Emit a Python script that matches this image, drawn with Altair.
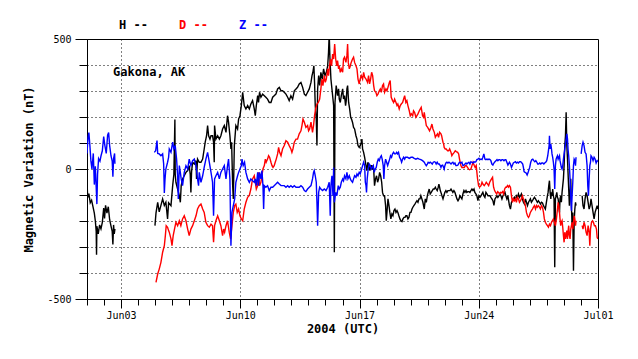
import json
import altair as alt
import pandas as pd

# ---- data (days since 2004-06-01 00:00 UTC, nT) ----
H = [(0.00,-50),(0.04,-110),(0.11,-95),(0.19,-130),(0.27,-120),(0.35,-145),(0.43,-170),(0.49,-200),(0.54,-240),(0.56,-330),(0.58,-220),(0.66,-250),(0.74,-215),(0.82,-230),(0.90,-205),(0.98,-150),(1.03,-190),(1.09,-140),(1.17,-170),(1.25,-145),(1.33,-195),(1.41,-220),(1.48,-240),(1.52,-290),(1.56,-215),(1.60,-250),(1.64,-230),
(3.99,-218),(4.05,-170),(4.15,-128),(4.24,-165),(4.34,-140),(4.44,-115),(4.54,-140),(4.63,-128),(4.73,-192),(4.79,-130),
(4.93,-141),(5.03,-64),(5.10,-20),(5.16,190),(5.18,-20),(5.22,-51),(5.32,-77),(5.42,-102),(5.48,-128),(5.53,-64),(5.61,-38),(5.71,-26),(5.81,-13),(5.91,-6),(6.00,13),(6.06,-20),(6.10,-90),(6.14,-10),(6.20,26),(6.30,19),(6.40,32),(6.43,-38),(6.49,38),(6.59,26),(6.69,26),(6.79,38),(6.88,77),(6.94,103),(7.02,128),(7.08,167),(7.14,128),(7.22,115),(7.28,128),(7.37,128),(7.43,103),(7.47,26),(7.49,167),(7.57,115),(7.67,128),(7.77,115),(7.86,128),(7.96,154),(8.06,167),(8.16,141),(8.25,205),(8.31,180),(8.39,128),(8.45,77),(8.49,103),(8.55,-60),(8.59,-115),(8.65,90),(8.74,167),(8.84,154),(8.90,192),(8.98,205),(9.06,244),(9.14,295),(9.23,244),(9.33,231),(9.43,244),(9.53,231),(9.62,250),(9.72,263),
(9.82,231),(9.88,205),(9.94,244),(10.02,282),(10.07,256),(10.13,295),(10.21,276),(10.31,288),(10.41,282),(10.50,276),(10.60,269),(10.70,256),(10.80,256),(10.90,276),(10.99,282),(11.09,288),(11.19,308),(11.29,314),(11.39,301),(11.48,301),(11.58,295),(11.68,288),(11.78,276),(11.87,263),(11.97,282),(12.07,269),(12.17,301),(12.27,308),(12.36,314),(12.46,327),(12.56,333),(12.66,314),(12.76,288),(12.85,282),(12.95,295),(13.05,308),(13.15,333),(13.21,359),(13.26,372),(13.32,397),(13.36,333),(13.40,244),(13.46,192),(13.50,90),(13.54,308),(13.60,359),(13.66,321),(13.73,372),(13.81,346),(13.89,385),(13.97,359),(14.05,372),(14.13,397),(14.18,449),(14.22,520),(14.26,430),(14.32,346),(14.40,295),(14.48,244),(14.52,-320),(14.56,256),(14.63,321),(14.71,282),(14.77,308),
(14.81,269),(14.87,256),(14.93,282),(15.01,308),(15.06,269),(15.12,282),(15.18,244),(15.22,263),(15.26,308),(15.30,321),(15.36,256),(15.42,231),(15.48,199),(15.53,192),(15.59,179),(15.65,160),(15.71,154),(15.79,128),(15.85,115),(15.91,90),(15.98,83),(16.04,90),(16.10,103),(16.14,115),(16.18,77),(16.24,64),(16.30,45),(16.38,13),(16.43,-6),(16.49,26),(16.55,13),(16.61,-6),(16.67,13),(16.73,13),(16.77,0),(16.83,0),(16.88,-64),(16.94,-38),(17.00,-26),(17.06,-51),(17.12,-38),(17.18,-13),(17.24,-26),(17.30,-51),(17.35,-90),(17.41,-103),(17.47,-103),(17.53,-141),(17.57,-199),(17.61,-167),(17.67,-115),(17.73,-141),(17.78,-167),(17.84,-192),(17.90,-173),(17.96,-180),(18.02,-160),(18.08,-154),(18.14,-167),(18.20,-160),(18.25,-167),(18.31,-180),(18.37,-192),(18.43,-199),(18.49,-202),(18.55,-192),(18.61,-186),(18.67,-186),(18.72,-180),(18.78,-180),(18.84,-192),(18.90,-186),(18.96,-167),(19.02,-167),(19.08,-154),(19.13,-147),(19.19,-141),(19.25,-135),(19.31,-128),(19.37,-122),(19.43,-128),(19.49,-115),(19.55,-115),(19.60,-103),(19.66,-115),(19.72,-128),
(19.80,-154),(19.86,-115),(19.92,-128),(19.98,-103),(20.03,-90),(20.09,-77),(20.15,-96),(20.21,-90),(20.27,-83),(20.33,-77),(20.39,-77),(20.45,-70),(20.50,-77),(20.56,-83),(20.62,-70),(20.66,-58),(20.70,-70),(20.74,-83),(20.78,-90),(20.84,-103),(20.90,-115),(20.95,-103),(21.01,-90),(21.07,-83),(21.13,-90),(21.19,-83),(21.25,-83),(21.31,-83),(21.37,-77),(21.42,-83),(21.48,-90),(21.54,-83),(21.60,-90),(21.66,-103),(21.72,-115),(21.78,-122),(21.84,-115),(21.89,-103),(21.95,-109),(22.01,-115),(22.07,-96),(22.13,-83),(22.19,-90),(22.25,-83),(22.30,-90),(22.36,-87),(22.42,-87),(22.48,-90),(22.54,-83),(22.60,-77),(22.66,-83),(22.72,-77),(22.77,-90),(22.83,-96),(22.89,-103),(22.95,-122),(23.01,-103),(23.07,-109),(23.13,-103),(23.19,-96),(23.24,-90),(23.30,-103),(23.36,-109),(23.42,-90),(23.48,-96),(23.54,-103),(23.60,-103),(23.66,-103),(23.71,-109),(23.77,-115),(23.83,-122),(23.89,-140),(23.95,-115),(24.01,-109),(24.07,-103),(24.12,-109),(24.18,-103),(24.24,-96),(24.30,-103),(24.36,-115),(24.42,-103),(24.48,-96),(24.54,-90),(24.59,-103),(24.65,-115),(24.71,-103),
(24.80,-141),(24.86,-154),(24.92,-128),(24.98,-122),(25.03,-115),(25.09,-109),(25.15,-122),(25.21,-103),(25.27,-109),(25.33,-96),(25.39,-109),(25.45,-103),(25.50,-96),(25.56,-115),(25.62,-128),(25.68,-135),(25.74,-115),(25.80,-128),(25.86,-141),(25.92,-128),(25.97,-122),(26.03,-115),(26.09,-128),(26.15,-122),(26.21,-115),(26.27,-109),(26.33,-115),(26.39,-122),(26.44,-128),(26.50,-122),(26.56,-128),(26.62,-135),(26.68,-128),(26.74,-131),(26.80,-141),(26.85,-147),(26.91,-154),(26.97,-128),(27.03,-103),(27.07,-90),(27.11,-64),(27.15,-45),(27.19,-90),(27.23,-115),(27.27,-90),(27.30,-103),(27.34,-77),(27.38,-103),(27.42,-115),(27.46,-378),(27.50,-115),(27.54,-103),(27.58,-90),(27.62,-109),(27.66,-115),(27.70,-141),(27.74,-167),(27.77,-115),(27.81,-103),(27.85,-128),(27.89,-90),(27.93,-64),(27.97,-38),(28.01,13),(28.05,90),(28.09,128),(28.13,218),(28.17,90),(28.21,38),(28.24,-13),(28.28,-77),(28.32,-141),(28.36,-90),(28.40,-38),(28.44,-141),(28.48,-218),(28.52,-167),(28.56,-391),(28.60,-205),(28.64,-154),(28.68,-128),(28.71,-141),
(29.07,-103),(29.12,-141),(29.18,-154),(29.24,-115),(29.30,-90),(29.36,-103),(29.42,-128),(29.48,-154),(29.54,-141),(29.59,-115),(29.65,-141),(29.71,-167),(29.77,-192),(29.83,-167),(29.89,-154),(29.95,-141),(29.99,-154)]

D = [(4.05,-436),(4.15,-404),(4.24,-385),(4.34,-359),(4.44,-320),(4.54,-295),(4.60,-256),(4.65,-218),(4.73,-224),(4.79,-237),
(4.83,-243),(4.93,-269),(4.99,-295),(5.06,-256),(5.14,-230),(5.22,-205),(5.32,-218),(5.42,-199),(5.51,-218),(5.61,-192),(5.71,-180),(5.81,-199),(5.91,-231),(6.00,-256),(6.10,-231),(6.20,-218),(6.30,-199),(6.40,-180),(6.49,-154),(6.59,-141),(6.69,-135),(6.79,-154),(6.88,-167),(6.98,-205),(7.08,-218),(7.18,-224),(7.28,-212),(7.37,-218),(7.43,-282),(7.49,-218),(7.57,-199),(7.67,-180),(7.77,-199),(7.86,-218),(7.96,-256),(8.02,-231),(8.08,-243),(8.16,-218),(8.25,-199),(8.35,-243),(8.43,-269),(8.51,-218),(8.59,-167),(8.67,-141),(8.74,-135),(8.82,-167),(8.90,-154),(8.98,-180),(9.06,-192),(9.14,-199),(9.23,-154),(9.33,-128),(9.43,-109),(9.53,-102),(9.62,-77),(9.72,-38),
(9.82,-26),(9.88,-51),(9.94,-77),(10.02,-64),(10.07,-13),(10.13,-64),(10.21,-51),(10.27,-26),(10.33,0),(10.41,13),(10.47,38),(10.52,26),(10.60,38),(10.66,51),(10.72,45),(10.80,26),(10.86,13),(10.92,6),(10.99,13),(11.05,26),(11.11,38),(11.19,58),(11.25,83),(11.31,64),(11.39,51),(11.48,77),(11.58,90),(11.68,109),(11.78,103),(11.87,90),(11.97,77),(12.03,64),(12.09,77),(12.17,103),(12.27,115),(12.36,115),(12.46,135),(12.56,147),(12.62,167),(12.68,192),(12.76,180),(12.85,160),(12.95,167),(13.01,147),(13.07,154),(13.15,180),(13.24,141),(13.30,167),(13.36,205),(13.42,231),(13.50,250),(13.58,256),(13.66,269),(13.73,308),(13.79,346),(13.85,321),(13.93,359),(13.99,333),(14.05,346),(14.13,385),(14.18,359),(14.24,397),(14.30,423),(14.36,397),(14.42,442),(14.48,423),(14.54,481),(14.60,423),(14.66,397),(14.71,417),(14.77,385),
(14.81,397),(14.87,372),(14.93,385),(15.01,372),(15.06,423),(15.12,430),(15.20,410),(15.26,436),(15.30,481),(15.34,410),(15.40,385),(15.46,397),(15.51,410),(15.59,423),(15.65,430),(15.71,410),(15.79,397),(15.85,385),(15.91,346),(15.98,327),(16.04,346),(16.10,359),(16.18,346),(16.24,372),(16.30,353),(16.38,346),(16.47,333),(16.53,359),(16.59,327),(16.65,346),(16.71,372),(16.77,359),(16.83,321),(16.88,301),(16.96,295),(17.02,282),(17.08,288),(17.16,301),(17.22,308),(17.28,295),(17.35,321),(17.41,327),(17.47,295),(17.55,308),(17.61,301),(17.67,314),(17.75,333),(17.80,340),(17.86,276),(17.94,263),(18.00,256),(18.06,269),(18.14,256),(18.20,244),(18.25,250),(18.33,231),(18.39,244),(18.45,250),(18.53,256),(18.59,269),(18.65,282),(18.72,256),(18.78,263),(18.84,244),(18.92,224),(18.98,205),(19.04,212),(19.12,205),(19.17,224),(19.23,218),(19.31,199),(19.37,205),(19.43,212),(19.51,224),(19.57,231),(19.62,237),(19.70,205),(19.76,199),
(19.80,218),(19.86,192),(19.92,167),(20.00,160),(20.05,154),(20.11,147),(20.19,160),(20.25,173),(20.31,154),(20.39,141),(20.45,122),(20.50,128),(20.58,135),(20.64,122),(20.70,141),(20.78,135),(20.82,128),(20.86,115),(20.90,103),(20.94,96),(20.97,83),(21.03,77),(21.09,77),(21.17,70),(21.23,70),(21.29,77),(21.37,64),(21.42,51),(21.48,58),(21.56,64),(21.62,70),(21.68,67),(21.76,64),(21.82,58),(21.87,38),(21.95,13),(22.01,6),(22.07,6),(22.15,6),(22.21,13),(22.27,13),(22.34,6),(22.40,0),(22.46,-3),(22.54,0),(22.60,13),(22.66,26),(22.74,13),(22.79,6),(22.85,13),(22.89,-13),(22.93,-38),(22.99,-64),(23.05,-70),(23.13,-64),(23.19,-51),(23.24,-58),(23.32,-64),(23.38,-58),(23.44,-51),(23.52,-58),(23.58,-64),(23.64,-51),(23.69,-45),(23.75,-38),(23.81,-32),(23.87,-70),(23.93,-83),(23.99,-90),(24.05,-96),(24.11,-87),(24.16,-90),(24.22,-96),(24.28,-90),(24.34,-92),(24.40,-87),(24.46,-96),(24.52,-77),(24.58,-70),(24.63,-70),(24.69,-64),(24.75,-70),
(24.80,-64),(24.86,-70),(24.92,-103),(24.98,-128),(25.03,-115),(25.09,-122),(25.15,-115),(25.21,-128),(25.27,-109),(25.33,-115),(25.39,-128),(25.45,-122),(25.50,-115),(25.56,-103),(25.62,-115),(25.68,-128),(25.74,-141),(25.80,-167),(25.86,-180),(25.92,-186),(25.97,-180),(26.03,-167),(26.09,-160),(26.15,-154),(26.21,-147),(26.27,-141),(26.33,-154),(26.39,-141),(26.44,-147),(26.50,-141),(26.56,-147),(26.62,-154),(26.68,-141),(26.74,-147),(26.80,-167),(26.85,-192),(26.91,-205),(26.97,-212),(27.03,-218),(27.09,-224),(27.15,-212),(27.21,-218),(27.27,-205),(27.32,-199),(27.38,-192),(27.44,-205),(27.50,-218),(27.56,-192),(27.62,-154),(27.66,-128),(27.70,-141),(27.74,-167),(27.77,-192),(27.81,-218),(27.85,-205),(27.89,-199),(27.93,-224),(27.97,-256),(28.01,-282),(28.05,-243),(28.09,-269),(28.13,-256),(28.17,-237),(28.21,-269),(28.24,-243),(28.28,-218),(28.32,-256),(28.36,-269),(28.40,-231),(28.44,-218),(28.48,-205),(28.52,-231),(28.56,-205),(28.60,-180),(28.64,-192),(28.68,-218),(28.71,-199),
(29.07,-218),(29.12,-231),(29.18,-205),(29.24,-218),(29.30,-243),(29.36,-256),(29.42,-218),(29.48,-243),(29.52,-295),(29.56,-231),(29.62,-205),(29.68,-199),(29.73,-205),(29.79,-218),(29.85,-218),(29.91,-231),(29.95,-263),(29.99,-269)]

Z = [(0.00,60),(0.06,120),(0.11,140),(0.17,90),(0.23,30),(0.29,0),(0.37,60),(0.43,-60),(0.49,10),(0.54,-70),(0.58,-135),(0.62,-20),(0.68,40),(0.76,30),(0.82,50),(0.90,70),(0.98,125),(1.05,90),(1.13,60),(1.21,130),(1.27,140),(1.33,90),(1.41,50),(1.48,30),(1.52,-30),(1.56,40),(1.62,60),(1.64,20),
(3.95,64),(4.03,70),(4.11,109),(4.15,60),(4.24,58),(4.34,51),(4.44,58),(4.50,20),(4.54,-92),(4.58,-40),(4.63,0),(4.73,26),(4.79,45),
(4.83,77),(4.93,64),(5.03,103),(5.10,77),(5.18,90),(5.26,38),(5.32,-26),(5.36,-115),(5.42,13),(5.48,-13),(5.53,-38),(5.61,-64),(5.71,-13),(5.81,13),(5.91,0),(6.00,38),(6.10,13),(6.20,32),(6.30,38),(6.40,13),(6.49,-38),(6.55,-64),(6.59,-13),(6.69,-51),(6.79,-26),(6.88,6),(6.98,38),(7.08,64),(7.18,26),(7.28,-13),(7.37,-51),(7.43,-180),(7.49,-38),(7.57,-26),(7.67,-13),(7.77,-38),(7.86,-13),(7.96,0),(8.06,13),(8.16,-38),(8.25,13),(8.31,38),(8.39,-38),(8.45,-295),(8.51,-167),(8.59,-141),(8.67,-115),(8.74,-51),(8.84,-26),(8.90,-13),(8.98,0),(9.06,13),(9.10,38),(9.17,13),(9.25,26),(9.33,-13),(9.43,-38),(9.53,-51),(9.62,-38),(9.72,-45),
(9.82,-51),(9.88,-38),(9.94,-64),(10.02,-13),(10.07,-64),(10.13,-13),(10.21,-38),(10.27,-6),(10.33,-64),(10.37,-154),(10.41,-64),(10.50,-70),(10.60,-64),(10.70,-83),(10.80,-70),(10.90,-70),(10.99,-64),(11.09,-58),(11.19,-51),(11.29,-58),(11.39,-64),(11.48,-64),(11.58,-64),(11.68,-70),(11.78,-64),(11.87,-70),(11.97,-64),(12.07,-70),(12.17,-64),(12.27,-70),(12.36,-70),(12.46,-70),(12.56,-64),(12.66,-70),(12.76,-83),(12.85,-87),(12.95,-77),(13.05,-70),(13.15,-64),(13.24,-38),(13.30,-13),(13.34,-6),(13.40,-26),(13.46,-51),(13.50,-128),(13.54,-218),(13.60,-90),(13.66,-70),(13.73,-77),(13.83,-83),(13.93,-77),(14.03,-83),(14.13,-70),(14.22,-51),(14.28,-180),(14.32,-64),(14.38,-26),(14.44,-103),(14.48,6),(14.52,-128),(14.60,-90),(14.67,-103),(14.75,-64),
(14.81,-77),(14.87,-70),(14.93,-51),(15.01,-38),(15.06,-45),(15.12,-26),(15.20,-38),(15.26,-13),(15.32,-38),(15.40,-26),(15.46,-38),(15.51,-45),(15.59,-51),(15.65,-38),(15.71,-26),(15.79,-32),(15.85,-19),(15.91,-26),(15.98,-13),(16.04,-19),(16.10,-6),(16.18,13),(16.24,26),(16.30,13),(16.34,-51),(16.38,-64),(16.41,-90),(16.45,-38),(16.51,0),(16.57,19),(16.63,13),(16.69,0),(16.75,6),(16.81,13),(16.86,-13),(16.92,0),(16.98,6),(17.04,26),(17.10,38),(17.16,32),(17.22,45),(17.28,51),(17.33,38),(17.39,13),(17.43,-38),(17.47,13),(17.53,38),(17.59,26),(17.65,13),(17.71,26),(17.77,38),(17.82,51),(17.88,45),(17.94,58),(18.00,64),(18.06,58),(18.12,58),(18.18,64),(18.23,58),(18.29,64),(18.35,45),(18.41,38),(18.47,26),(18.53,38),(18.59,45),(18.65,38),(18.70,45),(18.76,45),(18.82,45),(18.92,41),(19.02,45),(19.12,45),(19.21,41),(19.31,38),(19.41,41),(19.51,38),(19.60,36),(19.70,32),
(19.80,26),(19.86,19),(19.92,13),(19.98,19),(20.03,26),(20.09,23),(20.15,26),(20.21,23),(20.27,19),(20.33,26),(20.39,28),(20.45,26),(20.50,19),(20.56,26),(20.62,19),(20.68,19),(20.74,13),(20.78,6),(20.82,13),(20.88,15),(20.94,6),(20.97,0),(21.01,13),(21.07,23),(21.13,26),(21.19,23),(21.25,26),(21.31,23),(21.37,19),(21.42,23),(21.48,26),(21.54,19),(21.60,23),(21.66,13),(21.72,13),(21.78,15),(21.84,23),(21.89,26),(21.95,23),(22.01,26),(22.07,13),(22.13,15),(22.19,19),(22.25,23),(22.30,19),(22.36,23),(22.42,26),(22.48,19),(22.54,28),(22.60,26),(22.66,23),(22.72,28),(22.77,26),(22.83,28),(22.89,36),(22.95,38),(23.01,41),(23.07,36),(23.13,38),(23.19,36),(23.24,45),(23.30,58),(23.36,38),(23.42,36),(23.48,38),(23.54,36),(23.60,38),(23.66,36),(23.71,32),(23.77,19),(23.83,15),(23.89,23),(23.95,28),(24.01,32),(24.07,36),(24.12,32),(24.18,36),(24.24,36),(24.30,32),(24.36,36),(24.42,36),(24.48,32),(24.54,36),(24.59,36),(24.65,26),(24.71,15),
(24.80,26),(24.86,19),(24.92,6),(24.98,15),(25.03,23),(25.09,26),(25.15,28),(25.21,23),(25.27,26),(25.33,23),(25.39,28),(25.45,28),(25.50,26),(25.58,19),(25.62,6),(25.66,-10),(25.72,-13),(25.78,-15),(25.84,-23),(25.90,-13),(25.93,-6),(25.99,6),(26.05,26),(26.11,36),(26.17,38),(26.23,32),(26.29,28),(26.35,32),(26.41,26),(26.46,19),(26.52,19),(26.58,23),(26.64,19),(26.70,23),(26.76,23),(26.82,19),(26.87,23),(26.93,26),(26.99,32),(27.05,51),(27.09,71),(27.13,90),(27.15,128),(27.19,77),(27.23,96),(27.27,77),(27.30,58),(27.34,45),(27.38,26),(27.42,0),(27.46,-77),(27.50,13),(27.54,38),(27.58,45),(27.62,51),(27.66,38),(27.70,45),(27.74,51),(27.77,32),(27.81,19),(27.85,6),(27.89,0),(27.93,13),(27.97,38),(28.01,58),(28.05,77),(28.09,96),(28.13,115),(28.17,135),(28.21,115),(28.24,77),(28.28,51),(28.32,13),(28.36,-38),(28.40,-103),(28.44,-160),(28.48,-103),(28.52,-51),(28.56,13),(28.60,38),(28.64,32),(28.68,13),(28.71,45),
(29.01,58),(29.07,90),(29.12,103),(29.18,90),(29.24,64),(29.30,58),(29.36,13),(29.40,-64),(29.44,-103),(29.48,-38),(29.52,13),(29.56,26),(29.59,51),(29.65,45),(29.71,32),(29.77,45),(29.83,38),(29.89,23),(29.95,32),(29.99,28)]

SERIES = ["H", "D", "Z"]
COLORS = ["#000000", "#ff0000", "#0000ff"]
LEGEND_TEXT = ["H --", "D --", "Z --"]

X_TICKS = list(range(0, 31))
X_LABEL_DAYS = [2, 9, 16, 23, 30]
X_LABELS = ["Jun03", "Jun10", "Jun17", "Jun24", "Jul01"]
Y_TICKS = list(range(-500, 501, 100))
Y_LABEL_VALUES = [500, 0, -500]
Y_LABELS = ["500", "0", "-500"]

SITE = "Gakona, AK"
SITE_DAY, SITE_NT = 1.53, 373

MONO = "DejaVu Sans Mono"


def frame(name, pts):
    rows, seg, prev = [], 0, None
    for t, v in pts:
        if prev is not None and t - prev > 0.2:
            seg += 1
        rows.append({"series": name, "seg": f"{name}{seg}", "day": t, "nT": v})
        prev = t
    return pd.DataFrame(rows)


def label_expr(vals, labels):
    expr = "''"
    for v, l in reversed(list(zip(vals, labels))):
        expr = f"datum.value == {v} ? '{l}' : ({expr})"
    return expr


x_enc = alt.X(
    "day:Q",
    scale=alt.Scale(domain=[0, 30], nice=False, zero=False),
    axis=alt.Axis(
        values=X_TICKS,
        labelExpr=label_expr(X_LABEL_DAYS, X_LABELS),
        title="2004 (UTC)",
        grid=True,
        gridColor="black",
        gridDash=[1, 3],
        gridWidth=1,
        gridOpacity={"condition": {"test": f"indexof({json.dumps(X_LABEL_DAYS[:-1])}, datum.value) >= 0", "value": 1}, "value": 0},
        tickSize={"condition": {"test": f"indexof({json.dumps(X_LABEL_DAYS)}, datum.value) >= 0", "value": 9}, "value": 6},
        labelFlush=False,
        labelOverlap=False,
        labelFont=MONO,
        labelFontSize=10,
        labelPadding=2,
        titleFont=MONO,
        titleFontSize=12,
        titleFontWeight="bold",
        titleX=255.5,
        titleY=29,
        titleAlign="center",
        titleBaseline="middle",
    ),
)

y_enc = alt.Y(
    "nT:Q",
    scale=alt.Scale(domain=[-500, 500], nice=False, zero=False),
    axis=alt.Axis(
        values=Y_TICKS,
        labelExpr=label_expr(Y_LABEL_VALUES, Y_LABELS),
        title="Magnetic Variation (nT)",
        grid=True,
        gridColor="black",
        gridDash=[1, 3],
        gridWidth=1,
        tickSize={"condition": {"test": f"indexof({json.dumps(Y_LABEL_VALUES)}, datum.value) >= 0", "value": 12}, "value": 8},
        labelOverlap=False,
        labelFont=MONO,
        labelFontSize=10,
        labelPadding=4,
        titleFont=MONO,
        titleFontSize=12,
        titleFontWeight="bold",
        titleX=-59,
        titleY=130,
        titleAngle=270,
        titleAlign="center",
        titleBaseline="middle",
    ),
)

layers = []
for name, pts, color in zip(SERIES, [H, D, Z], COLORS):
    layers.append(
        alt.Chart(frame(name, pts))
        .mark_line(color=color, strokeWidth=1.4, clip=True)
        .encode(x=x_enc, y=y_enc, detail="seg:N")
    )

site = alt.Chart(pd.DataFrame({"day": [SITE_DAY], "nT": [SITE_NT], "label": [SITE]})).mark_text(
    align="left", baseline="middle", font=MONO, fontSize=12, fontWeight="bold", color="black"
).encode(x=x_enc, y=y_enc, text="label:N")
layers.append(site)

for i, (txt, color) in enumerate(zip(LEGEND_TEXT, COLORS)):
    layers.append(
        alt.Chart(pd.DataFrame({"label": [txt]})).mark_text(
            align="left", baseline="middle", font=MONO, fontSize=12, fontWeight="bold", color=color
        ).encode(x=alt.value(32 + 60 * i), y=alt.value(-14), text="label:N")
    )

chart = (
    alt.layer(*layers)
    .properties(
        width=511,
        height=260,
        autosize="none",
        padding={"left": 79, "top": 31, "right": 32, "bottom": 44},
        background="white",
    )
    .configure_view(stroke="black", strokeWidth=1)
    .configure_axis(domainColor="black", tickColor="black", labelColor="black", titleColor="black", domainWidth=1, tickWidth=1)
)

chart.save("out.html", embed_options={"renderer": "svg", "actions": False})
